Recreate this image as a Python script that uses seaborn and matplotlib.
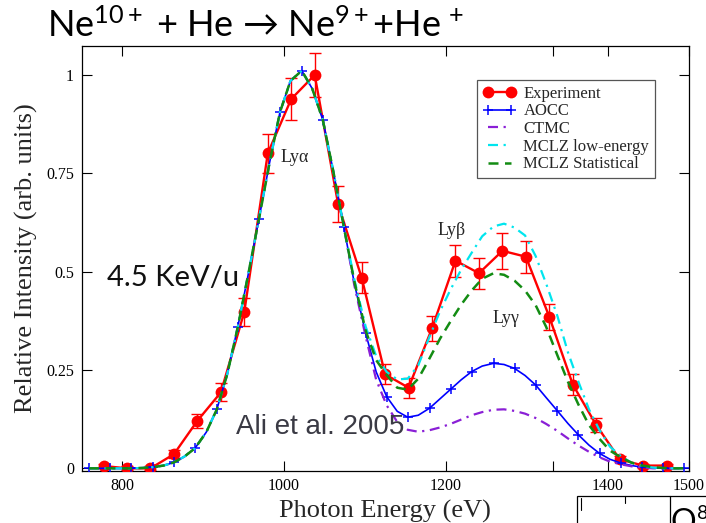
import matplotlib
matplotlib.use("Agg")
import matplotlib.pyplot as plt
import seaborn as sns
from matplotlib.patches import Rectangle
from matplotlib.lines import Line2D

# Measured K-shell emission following Ne10+ + He capture (4.5 keV/u)
exp_energy = [777, 806, 835, 864, 893, 922, 951, 980, 1009, 1038, 1067, 1096, 1125,
              1154, 1183, 1212, 1241, 1270, 1299, 1328, 1357, 1386, 1415, 1444, 1473]
exp_intensity = [0.006, 0.0, 0.0, 0.036, 0.121, 0.193, 0.398, 0.801, 0.939, 1.0, 0.671,
                 0.485, 0.239, 0.205, 0.356, 0.528, 0.496, 0.553, 0.538, 0.385, 0.213,
                 0.110, 0.023, 0.007, 0.007]
exp_error = [0.005, 0.005, 0.005, 0.010, 0.018, 0.023, 0.035, 0.050, 0.054, 0.055, 0.046,
             0.039, 0.025, 0.025, 0.032, 0.041, 0.039, 0.045, 0.041, 0.034, 0.027,
             0.018, 0.008, 0.005, 0.005]

# Model spectra on a common energy grid
theory_energy = [759, 772, 785, 798, 811, 825, 838, 851, 864, 877, 890, 904, 917, 930,
                 943, 956, 969, 982, 995, 1008, 1022, 1035, 1048, 1061, 1074, 1087, 1101,
                 1114, 1127, 1140, 1153, 1166, 1180, 1193, 1206, 1219, 1232, 1245, 1259,
                 1272, 1285, 1298, 1311, 1324, 1338, 1351, 1364, 1377, 1390, 1403, 1417,
                 1430, 1443, 1456, 1469, 1482, 1495]
aocc = [0.0, 0.0, 0.0, 0.0, 0.0, 0.001, 0.003, 0.007, 0.015, 0.030, 0.051, 0.092, 0.150,
        0.240, 0.360, 0.495, 0.633, 0.775, 0.905, 0.985, 1.011, 0.965, 0.886, 0.755, 0.614,
        0.470, 0.343, 0.245, 0.182, 0.145, 0.130, 0.135, 0.153, 0.177, 0.201, 0.225,
        0.246, 0.260, 0.267, 0.264, 0.254, 0.236, 0.212, 0.180, 0.146, 0.114, 0.085,
        0.059, 0.038, 0.023, 0.013, 0.007, 0.003, 0.001, 0.0, 0.0, 0.0]
ctmc = [0.0, 0.0, 0.0, 0.0, 0.0, 0.001, 0.003, 0.007, 0.015, 0.030, 0.051, 0.092, 0.150,
        0.240, 0.360, 0.495, 0.633, 0.775, 0.905, 0.985, 1.011, 0.965, 0.886, 0.755, 0.614,
        0.465, 0.335, 0.225, 0.160, 0.118, 0.098, 0.093, 0.097, 0.104, 0.113, 0.124,
        0.135, 0.143, 0.149, 0.150, 0.146, 0.139, 0.128, 0.113, 0.095, 0.076, 0.058,
        0.042, 0.028, 0.017, 0.010, 0.005, 0.002, 0.0, 0.0, 0.0, 0.0]
mclz_low = [0.0, 0.0, 0.0, 0.0, 0.0, 0.001, 0.003, 0.007, 0.015, 0.030, 0.051, 0.092,
            0.150, 0.240, 0.360, 0.495, 0.633, 0.775, 0.905, 0.985, 1.011, 0.965, 0.886,
            0.755, 0.614, 0.480, 0.360, 0.285, 0.245, 0.226, 0.228, 0.262, 0.335, 0.400,
            0.455, 0.505, 0.548, 0.590, 0.615, 0.622, 0.612, 0.592, 0.540, 0.470, 0.387,
            0.295, 0.220, 0.150, 0.097, 0.055, 0.030, 0.014, 0.006, 0.002, 0.0, 0.0, 0.0]
mclz_stat = [0.0, 0.0, 0.0, 0.0, 0.0, 0.001, 0.003, 0.007, 0.015, 0.030, 0.051, 0.092,
             0.150, 0.240, 0.360, 0.495, 0.633, 0.775, 0.905, 0.985, 1.011, 0.965, 0.886,
             0.755, 0.614, 0.475, 0.350, 0.275, 0.237, 0.205, 0.200, 0.228, 0.280, 0.330,
             0.374, 0.416, 0.452, 0.482, 0.496, 0.492, 0.477, 0.452, 0.415, 0.360, 0.287,
             0.220, 0.162, 0.110, 0.075, 0.045, 0.027, 0.014, 0.007, 0.003, 0.001, 0.0,
             0.0]

x_ticks = [800, 1000, 1200, 1333, 1400, 1500]
x_tick_labels = ["800", "1000", "1200", "", "1400", "1500"]
y_ticks = [0, 0.25, 0.5, 0.75, 1.0]
y_tick_labels = ["0", "0.25", "0.5", "0.75", "1"]

sns.set_theme(style="ticks")
plt.rcParams["font.family"] = ["Liberation Serif", "DejaVu Serif"]
plt.rcParams["mathtext.fontset"] = "custom"
plt.rcParams["mathtext.rm"] = "Lato"
plt.rcParams["mathtext.it"] = "Lato:italic"
plt.rcParams["mathtext.bf"] = "Lato:bold"

W, H = 706, 523
fig = plt.figure(figsize=(W / 100, H / 100), dpi=100)
fig.patch.set_facecolor("white")

left, right, top, bottom = 81.7, 688.5, 46.0, 470.7
ax = fig.add_axes([left / W, 1 - bottom / H, (right - left) / W, (bottom - top) / H])
ax.set_facecolor("white")

# experiment: error bars, then connected points
ax.errorbar(exp_energy, exp_intensity, yerr=exp_error, fmt="none", ecolor="#ff0000",
            elinewidth=1.0, capsize=4.3, capthick=1.0, zorder=2)
sns.lineplot(x=exp_energy, y=exp_intensity, ax=ax, color="#ff0000", lw=1.7,
             marker="o", markersize=8.5, markeredgewidth=0, markeredgecolor="#ff0000",
             label="Experiment", sort=False, zorder=3)

sns.lineplot(x=theory_energy, y=aocc, ax=ax, color="#0000ff", lw=1.2,
             marker="+", markersize=6.5, markeredgewidth=1.1, markeredgecolor="#0000ff",
             markevery=2, label="AOCC", sort=False, zorder=4)
sns.lineplot(x=theory_energy, y=ctmc, ax=ax, color="#8a1fd6", lw=1.6,
             linestyle=(0, (4.5, 2.5, 1.0, 2.5)), label="CTMC", sort=False, zorder=4)
sns.lineplot(x=theory_energy, y=mclz_low, ax=ax, color="#00e5ee", lw=1.6,
             linestyle=(0, (4.5, 2.5, 1.0, 2.5)), label="MCLZ low-energy",
             sort=False, zorder=4)
sns.lineplot(x=theory_energy, y=mclz_stat, ax=ax, color="#138c13", lw=1.8,
             linestyle=(0, (4.0, 2.6)), label="MCLZ Statistical", sort=False, zorder=4)

ax.set_xlim(750, 1500)
ax.set_ylim(-0.006, 1.0737)
ax.set_xticks(x_ticks)
ax.set_xticklabels(x_tick_labels)
ax.set_yticks(y_ticks)
ax.set_yticklabels(y_tick_labels)
ax.tick_params(direction="in", length=7.5, width=0.8, top=True, right=True,
               labelsize=11.5, pad=5.5, colors="black")
for sp in ax.spines.values():
    sp.set_linewidth(0.9)
    sp.set_color("black")

ax.set_xlabel("Photon Energy (eV)", fontsize=19, labelpad=4)
ax.set_ylabel("Relative Intensity (arb. units)", fontsize=19, labelpad=6)

# line identifications
ax.text(996, 0.78, "Ly\u03b1", fontsize=13, va="baseline")
ax.text(1190, 0.593, "Ly\u03b2", fontsize=13, va="baseline")
ax.text(1258, 0.369, "Ly\u03b3", fontsize=13, va="baseline")

leg = ax.legend(loc="upper left", bbox_to_anchor=(0.651, 0.92), borderaxespad=0,
                fontsize=12, frameon=True, fancybox=False, framealpha=1,
                edgecolor="#555555", handlelength=2.0, handletextpad=0.45,
                labelspacing=0.1, borderpad=0.35, numpoints=2)
leg.get_frame().set_linewidth(0.9)
for h in leg.legend_handles:
    if hasattr(h, "set_markevery"):
        h.set_markevery(None)

# slide annotations
fig.text(47 / W, 1 - 37 / H, "Ne$^{10+}$ + He \u2192 Ne$^{9+}$+He$^{\\,+}$",
         fontsize=26, va="baseline", ha="left", color="black",
         family=["Lato", "DejaVu Sans"])
fig.text(106.7 / W, 1 - 286 / H, "4.5 KeV/u", fontsize=21, va="baseline", ha="left",
         family=["Lato", "DejaVu Sans"], color="#111111")
fig.text(236 / W, 1 - 434 / H, "Ali et al. 2005", fontsize=20, va="baseline", ha="left",
         family=["Liberation Sans", "DejaVu Sans"], color="#3a3a44")

# edge of the neighbouring panel
fig.add_artist(Rectangle((577 / W, -0.05), 0.3, 0.05 + 1 - 496 / H,
                         transform=fig.transFigure, fill=False, lw=0.9,
                         edgecolor="black"))
fig.add_artist(Line2D([670 / W, 670 / W], [-0.05, 1 - 496 / H],
                      transform=fig.transFigure, lw=0.9, color="black"))
fig.add_artist(Line2D([625 / W, 625 / W], [1 - 496 / H, 1 - 503 / H],
                      transform=fig.transFigure, lw=0.8, color="black"))
fig.add_artist(Line2D([581 / W, 581 / W], [1 - 498 / H, 1 - 510 / H],
                      transform=fig.transFigure, lw=0.8, color="black"))
fig.text(671 / W, 1 - 532 / H, "O", fontsize=23, va="baseline", ha="left",
         family=["Lato", "DejaVu Sans"], color="black")
fig.text(697 / W, 1 - 519 / H, "8", fontsize=14, va="baseline", ha="left",
         family=["Lato", "DejaVu Sans"], color="black")

fig.savefig("out.png", dpi=100)
